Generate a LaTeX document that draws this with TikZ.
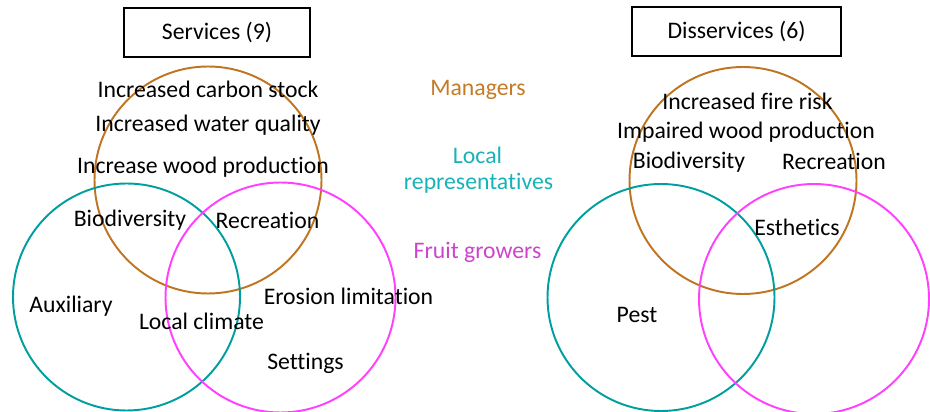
\documentclass[tikz,border=0pt]{standalone}
\usepackage{fontspec}
\setmainfont{Carlito}[Ligatures=NoCommon]
\usepackage{tikz}
\usepackage{xcolor}
\usetikzlibrary{shapes, positioning}

\definecolor{mgrcol}{RGB}{191,116,32}
\definecolor{mgrtext}{RGB}{197,122,38}
\definecolor{loccol}{RGB}{0,158,158}
\definecolor{loctext}{RGB}{24,178,184}
\definecolor{frucol}{RGB}{255,64,255}
\definecolor{frutext}{RGB}{204,68,204}

\begin{document}
\begin{tikzpicture}[
        venn/.style={circle, draw, line width=1.1pt, minimum size=4.54cm, inner sep=0pt},
        titlebox/.style={draw, line width=0.8pt, minimum height=0.98cm, inner sep=0pt},
        txt/.style={anchor=base, inner sep=0pt},
        every node/.append style={font=\fontsize{13.5}{16}\selectfont}
    ]
        \useasboundingbox (0, 0) rectangle (18.6, -8.24);

        % services
        \node[titlebox, minimum width=3.72cm] (serv) at (4.34, -0.65) {Services (9)};
        \node[venn, mgrcol] (mgrL) at (4.16, -3.60) {};
        \node[venn, loccol] (locL) at (2.53, -5.94) {};
        \node[venn, frucol, minimum size=4.6cm] (fruL) at (5.61, -5.95) {};

        \node[txt] (carbon) at (4.16, -1.95) {Increased carbon stock};
        \node[txt] (water) at (4.16, -2.63) {Increased water quality};
        \node[txt] (woodL) at (4.06, -3.47) {Increase wood production};
        \node[txt] (bioL) at (2.60, -4.53) {Biodiversity};
        \node[txt] (recL) at (5.35, -4.57) {Recreation};
        \node[txt] (aux) at (1.42, -6.25) {Auxiliary};
        \node[txt] (climate) at (4.03, -6.59) {Local climate};
        \node[txt] (erosion) at (6.97, -6.09) {Erosion limitation};
        \node[txt] (settings) at (6.11, -7.39) {Settings};

        % legend
        \node[txt, text=mgrtext] (mgr) at (9.56, -1.91) {Managers};
        \node[txt, text=loctext] (loc) at (9.55, -3.27) {Local};
        \node[txt, text=loctext] (rep) at (9.57, -3.79) {representatives};
        \node[txt, text=frutext] (fru) at (9.55, -5.17) {Fruit growers};

        % disservices
        \node[titlebox, minimum width=4.18cm] (diss) at (14.73, -0.63) {Disservices (6)};
        \node[venn, mgrcol] (mgrR) at (14.86, -3.61) {};
        \node[venn, loccol] (locR) at (13.22, -5.95) {};
        \node[venn, frucol, minimum size=4.6cm] (fruR) at (16.28, -5.98) {};

        \node[txt] (fire) at (14.95, -2.19) {Increased fire risk};
        \node[txt] (woodR) at (14.92, -2.77) {Impaired wood production};
        \node[txt] (bioR) at (13.78, -3.37) {Biodiversity};
        \node[txt] (recR) at (16.68, -3.39) {Recreation};
        \node[txt] (esth) at (15.94, -4.71) {Esthetics};
        \node[txt] (pest) at (12.74, -6.45) {Pest};
    \end{tikzpicture}
\end{document}
